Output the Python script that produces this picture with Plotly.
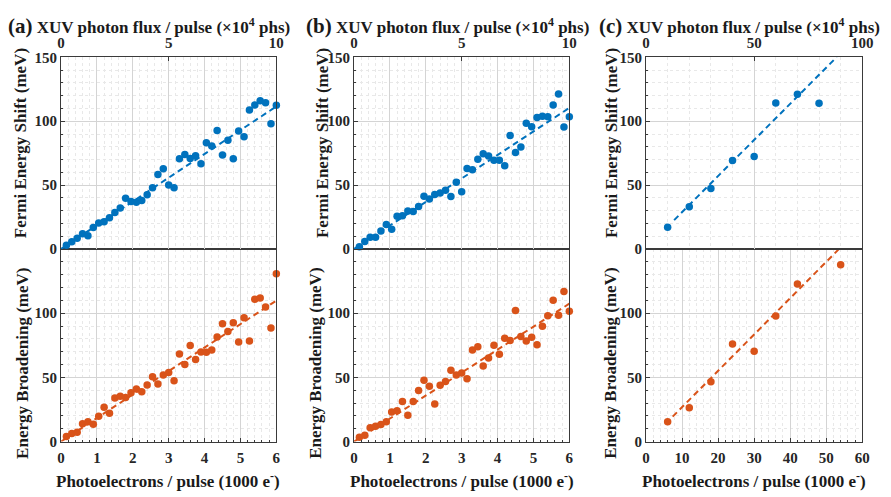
import plotly.graph_objects as go

# ---------------- data ----------------
pe_ab = [0.15, 0.30, 0.45, 0.60, 0.75, 0.90, 1.05, 1.20, 1.35, 1.50,
         1.65, 1.80, 1.95, 2.10, 2.25, 2.40, 2.55, 2.70, 2.85, 3.00,
         3.15, 3.30, 3.45, 3.60, 3.75, 3.90, 4.05, 4.20, 4.35, 4.50,
         4.65, 4.80, 4.95, 5.10, 5.25, 5.40, 5.55, 5.70, 5.85, 6.00]

shift_a = [3.0, 5.6, 8.4, 12.0, 10.4, 16.8, 20.4, 21.4, 24.4, 28.5,
           32.0, 39.7, 37.2, 36.6, 37.9, 42.5, 48.0, 58.3, 62.9, 50.0,
           48.0, 70.6, 73.9, 70.8, 72.9, 66.8, 83.2, 80.6, 92.8, 73.5,
           85.2, 70.7, 92.4, 87.8, 108.7, 112.7, 116.0, 114.5, 98.0, 112.5]

broad_a = [4.0, 6.3, 7.3, 13.8, 15.5, 13.5, 19.8, 26.8, 22.0, 34.0,
           35.3, 34.3, 38.0, 41.0, 38.8, 44.0, 50.5, 44.8, 51.8, 53.8,
           47.3, 68.3, 60.0, 74.8, 64.0, 69.8, 69.5, 71.3, 81.5, 91.8,
           85.8, 92.5, 77.5, 96.5, 78.3, 110.8, 111.8, 104.8, 88.5, 130.8]

shift_b = [1.8, 5.9, 9.2, 9.2, 14.0, 19.1, 15.5, 25.7, 26.0, 29.8,
           29.3, 33.3, 41.2, 39.2, 42.7, 43.8, 46.0, 41.0, 52.2, 44.8,
           63.0, 62.0, 70.2, 74.5, 72.8, 69.5, 69.5, 65.1, 88.8, 75.6,
           79.9, 98.5, 95.7, 103.0, 104.0, 103.6, 112.7, 121.4, 95.4, 103.6]

broad_b = [3.3, 5.0, 10.8, 12.0, 13.3, 15.5, 23.0, 24.0, 31.3, 20.5,
           31.3, 39.8, 47.8, 43.0, 29.3, 43.8, 46.8, 55.5, 51.8, 53.5,
           49.0, 71.3, 73.8, 58.8, 65.0, 75.0, 68.0, 80.5, 78.8, 102.0,
           81.8, 78.3, 81.3, 75.5, 89.8, 98.0, 110.0, 98.3, 116.8, 101.5]

pe_c_top = [6, 12, 18, 24, 30, 36, 42, 48]
shift_c = [17.0, 33.0, 47.3, 69.2, 72.3, 114.3, 121.1, 114.0]
pe_c_bot = [6, 12, 18, 24, 30, 36, 42, 54]
broad_c = [15.5, 26.3, 46.5, 76.0, 70.3, 97.8, 122.8, 137.8]

# linear fits: (slope, intercept, x_start, x_end)
fit_a_top = (18.6, 0.0, 0.0, 6.0)
fit_a_bot = (18.3, 0.0, 0.0, 6.0)
fit_b_top = (18.4, 0.0, 0.0, 6.0)
fit_b_bot = (17.9, 0.0, 0.0, 6.0)
fit_c_top = (2.83, 0.5, 7.8, 52.9)
fit_c_bot = (2.83, -1.5, 7.4, 53.5)

x_bottom_ticks_ab = [0, 1, 2, 3, 4, 5, 6]
x_bottom_ticks_c = [0, 10, 20, 30, 40, 50, 60]
x_top_ticks_ab = [0, 5, 10]
x_top_ticks_c = [0, 50, 100]

panel_labels = ["(a)", "(b)", "(c)"]

# ---------------- style ----------------
W, H = 891, 497
BLUE = "#0072BD"
ORANGE = "#D95319"
FONT = "Liberation Serif, Times New Roman, serif"
GRID = "#d4d4d4"
MINOR = "#e8e8e8"
LINE = "#3a3a3a"


def fx(px):
    return px / W


def fy(py):
    return 1 - py / H


cols = [(58, 277), (356, 575), (653, 873)]
top_dom = [fy(249), fy(51)]
bot_dom = [fy(448), fy(249)]

fig = go.Figure()


def fit_line(params):
    s, b, x0, x1 = params
    xs = [x0, x1]
    ys = [s * x + b for x in xs]
    return xs, ys


panels = [
    dict(pe_top=pe_ab, top=shift_a, pe_bot=pe_ab, bot=broad_a, ft=fit_a_top, fb=fit_a_bot,
         xr=[0, 6], xt=x_bottom_ticks_ab, xtop=[0, 10], xtopt=x_top_ticks_ab,
         top_major=1, top_minor=0.2, bot_minor=0.2),
    dict(pe_top=pe_ab, top=shift_b, pe_bot=pe_ab, bot=broad_b, ft=fit_b_top, fb=fit_b_bot,
         xr=[0, 6], xt=x_bottom_ticks_ab, xtop=[0, 10], xtopt=x_top_ticks_ab,
         top_major=1, top_minor=0.2, bot_minor=0.2),
    dict(pe_top=pe_c_top, top=shift_c, pe_bot=pe_c_bot, bot=broad_c, ft=fit_c_top, fb=fit_c_bot,
         xr=[0, 60], xt=x_bottom_ticks_c, xtop=[0, 100], xtopt=x_top_ticks_c,
         top_major=30, top_minor=6, bot_minor=2),
]

tickfont = dict(family=FONT, size=15, color="#262626", weight="bold")

layout = dict(
    width=W, height=H, margin=dict(l=0, r=0, t=0, b=0),
    paper_bgcolor="white", plot_bgcolor="white", showlegend=False,
)

for i, p in enumerate(panels):
    xb, xt_, xo = 3 * i + 1, 3 * i + 2, 3 * i + 3
    yb, yt = 2 * i + 1, 2 * i + 2
    dom = [fx(cols[i][0]), fx(cols[i][1])]
    xbn = "x" if xb == 1 else f"x{xb}"
    ybn = "y" if yb == 1 else f"y{yb}"

    # bottom panel x (with tick labels)
    layout[f"xaxis{xb}" if xb > 1 else "xaxis"] = dict(
        domain=dom, anchor=ybn, range=p["xr"], tickvals=p["xt"],
        showline=True, mirror=True, linecolor=LINE, linewidth=1,
        showgrid=True, gridcolor=GRID, gridwidth=1, zeroline=False,
        ticks="inside", ticklen=4, tickcolor=LINE, tickfont=tickfont, ticklabelstandoff=2,
        minor=dict(dtick=p["bot_minor"], showgrid=True, gridcolor=MINOR, griddash="dot",
                   ticks="inside", ticklen=2, tickcolor=LINE),
    )
    # top panel x (grid only)
    layout[f"xaxis{xt_}"] = dict(
        domain=dom, anchor=f"y{yt}", range=p["xr"], dtick=p["top_major"], tick0=0,
        showticklabels=False, showline=True, mirror=True, linecolor=LINE, linewidth=1,
        showgrid=True, gridcolor=GRID, gridwidth=1, zeroline=False, ticks="",
        minor=dict(dtick=p["top_minor"], tick0=0, showgrid=True, gridcolor=MINOR, griddash="dot"),
    )
    # top tick labels (photon flux)
    layout[f"xaxis{xo}"] = dict(
        overlaying=f"x{xt_}", anchor=f"y{yt}", side="top", range=p["xtop"],
        tickvals=p["xtopt"], showgrid=False, zeroline=False, showline=False,
        ticks="inside", ticklen=4, tickcolor=LINE, tickfont=tickfont, ticklabelstandoff=5,
    )
    # y axes
    layout[f"yaxis{yb}" if yb > 1 else "yaxis"] = dict(
        domain=bot_dom, anchor=xbn, range=[0, 150], tickvals=[0, 50, 100],
        showline=True, mirror=True, linecolor=LINE, linewidth=1,
        showgrid=True, gridcolor=GRID, zeroline=False,
        ticks="inside", ticklen=4, tickcolor=LINE, tickfont=tickfont,
        minor=dict(dtick=10, showgrid=True, gridcolor=MINOR, griddash="dot",
                   ticks="inside", ticklen=2, tickcolor=LINE),
    )
    layout[f"yaxis{yt}"] = dict(
        domain=top_dom, anchor=f"x{xt_}", range=[0, 150], tickvals=[0, 50, 100, 150],
        showline=True, mirror=True, linecolor=LINE, linewidth=1,
        showgrid=True, gridcolor=GRID, zeroline=False,
        ticks="inside", ticklen=4, tickcolor=LINE, tickfont=tickfont,
        minor=dict(dtick=10, showgrid=True, gridcolor=MINOR, griddash="dot",
                   ticks="inside", ticklen=2, tickcolor=LINE),
    )

    # fit lines
    fxs, fys = fit_line(p["ft"])
    fig.add_trace(go.Scatter(x=fxs, y=fys, mode="lines", xaxis=f"x{xt_}", yaxis=f"y{yt}",
                             line=dict(color=BLUE, width=2, dash="6px,4px"), hoverinfo="skip"))
    fxs, fys = fit_line(p["fb"])
    fig.add_trace(go.Scatter(x=fxs, y=fys, mode="lines", xaxis=xbn, yaxis=ybn,
                             line=dict(color=ORANGE, width=2, dash="6px,4px"), hoverinfo="skip"))
    # data
    fig.add_trace(go.Scatter(x=p["pe_top"], y=p["top"], mode="markers", xaxis=f"x{xt_}", yaxis=f"y{yt}",
                             marker=dict(color=BLUE, size=7.5), cliponaxis=False))
    fig.add_trace(go.Scatter(x=p["pe_bot"], y=p["bot"], mode="markers", xaxis=xbn, yaxis=ybn,
                             marker=dict(color=ORANGE, size=7.5), cliponaxis=False))
    # invisible trace to realise the top (overlay) axis
    fig.add_trace(go.Scatter(x=p["xtop"], y=[None, None], mode="markers", xaxis=f"x{xo}",
                             yaxis=f"y{yt}", marker=dict(opacity=0), hoverinfo="skip"))

fig.update_layout(**layout)

# ---------------- text ----------------
title_font = dict(family=FONT, size=17, color="#1a1a1a", weight="bold")
title_x = [2, 305, 603]
ytitle_top_x = [17, 324, 618]
ytitle_bot_x = [18, 317, 617]
xtitle_cx = [167, 466, 763]

for i in range(3):
    fig.add_annotation(
        x=fx(title_x[i]), y=fy(19), xref="paper", yref="paper", xanchor="left", yanchor="middle",
        text=f'<span style="font-size:21px">{panel_labels[i]}</span> XUV photon flux / pulse (×10<sup>4</sup> phs)',
        showarrow=False, font=title_font,
    )
    fig.add_annotation(
        x=fx(ytitle_top_x[i]), y=fy(140), xref="paper", yref="paper", xanchor="center", yanchor="middle",
        text="Fermi Energy Shift (meV)", textangle=-90, showarrow=False, font=title_font,
    )
    fig.add_annotation(
        x=fx(ytitle_bot_x[i]), y=fy(367), xref="paper", yref="paper", xanchor="center", yanchor="middle",
        text="Energy Broadening (meV)", textangle=-90, showarrow=False, font=title_font,
    )
    fig.add_annotation(
        x=fx(xtitle_cx[i]), y=fy(488), xref="paper", yref="paper", xanchor="center", yanchor="middle",
        text="Photoelectrons / pulse (1000 e<sup>-</sup>)", showarrow=False, font=title_font,
    )

fig.write_html("out.html")
